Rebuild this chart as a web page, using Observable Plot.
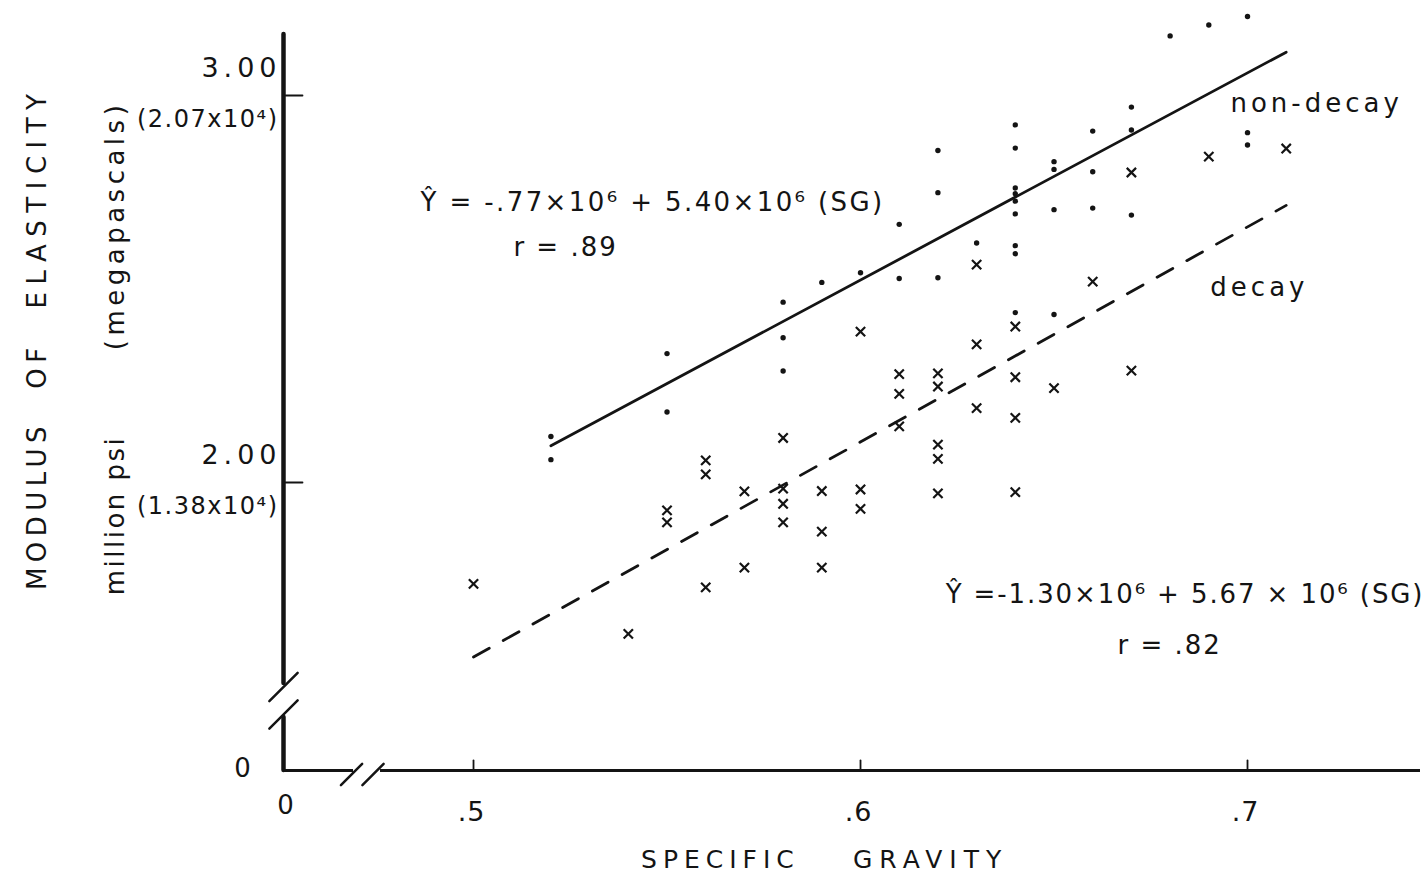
<!DOCTYPE html>
<html>
<head>
<meta charset="utf-8">
<script src="https://cdn.jsdelivr.net/npm/d3@7"></script>
<script src="https://cdn.jsdelivr.net/npm/@observablehq/plot@0.6"></script>
<style>
  body { margin: 0; background: #fff; }
  #chart svg { display: block; }
  g[aria-description="ytitle"] text { letter-spacing: 5.5px; }
  g[aria-description="ytitle"] text:nth-child(3) { letter-spacing: 7.5px; }
  g[aria-description="yunit"] text { letter-spacing: 2.5px; }
  g[aria-description="yunit"] text:nth-child(2) { letter-spacing: 4.5px; }
  g[aria-description="xtitle"] text { letter-spacing: 6px; }
  g[aria-description="xtitle"] text:nth-child(2) { letter-spacing: 7px; }
  g[aria-description="ytick-psi"] text { letter-spacing: 5px; }
  g[aria-description="ytick-mpa"] text { letter-spacing: 1.5px; }
  g[aria-description="xtick-label"] text { letter-spacing: 1px; }
  g[aria-description="equation"] text { letter-spacing: 2px; }
  g[aria-description="equation"] text:nth-child(1) { letter-spacing: 2.4px; }
  g[aria-description="equation"] text:nth-child(3) { letter-spacing: 1.9px; }
  g[aria-description="series-label"] text { letter-spacing: 4px; }
</style>
</head>
<body>
<div id="chart"></div>
<script>
// ---------- data (specific gravity, modulus of elasticity in million psi) ----------
const nonDecaySG  = [0.52,0.52,0.55,0.55,0.58,0.58,0.58,0.59,0.60,0.61,0.61,0.62,0.62,0.62,0.63,
                     0.64,0.64,0.64,0.64,0.64,0.64,0.64,0.64,0.64,0.65,0.65,0.65,0.65,0.66,0.66,0.66,
                     0.67,0.67,0.67,0.68,0.69,0.70,0.70,0.70];
const nonDecayMOE = [2.119,2.059,2.333,2.182,2.466,2.374,2.288,2.517,2.542,2.667,2.527,2.858,2.749,2.529,2.619,
                     2.924,2.864,2.761,2.746,2.727,2.694,2.612,2.591,2.439,2.829,2.809,2.705,2.434,2.908,2.803,2.709,
                     2.970,2.911,2.691,3.154,3.182,3.204,2.904,2.872];

const decaySG  = [0.50,0.54,0.55,0.55,0.56,0.56,0.56,0.57,0.57,0.58,0.58,0.58,0.58,0.59,0.59,0.59,
                  0.60,0.60,0.60,0.61,0.61,0.61,0.62,0.62,0.62,0.62,0.62,0.63,0.63,0.63,
                  0.64,0.64,0.64,0.64,0.65,0.66,0.67,0.67,0.69,0.71];
const decayMOE = [1.738,1.609,1.928,1.897,2.057,2.021,1.729,1.977,1.780,2.115,1.984,1.945,1.897,1.978,1.873,1.780,
                  2.390,1.982,1.932,2.280,2.229,2.145,2.282,2.248,2.098,2.061,1.972,2.563,2.357,2.192,
                  2.403,2.272,2.167,1.975,2.244,2.519,2.801,2.289,2.842,2.863];

// fitted regression lines as drawn (end points)
const nonDecayFitSG  = [0.52, 0.71];
const nonDecayFitMOE = [2.095, 3.112];
const decayFitSG     = [0.50, 0.71];
const decayFitMOE    = [1.549, 2.716];

// ticks
const xTicks = [0.5, 0.6, 0.7];
const xTickLabels = [".5", ".6", ".7"];
const yTicks = [2, 3];
const yTickPsi = ["2.00", "3.00"];
const yTickMPa = ["(1.38x10\u2074)", "(2.07x10\u2074)"];

// broken-axis extent (data units)
const xDomain = [0.4509, 0.7447];
const yDomain = [1.2558, 3.1576];
const xGap = [0.46899, 0.47597];
const yGap = [1.3928, 1.4806];
const xBreakMarks = [0.46848, 0.47403];
const yBreakMarks = [1.4005, 1.4716];

// annotation texts (anchored in data units)
const equations = [
  {text: "\u0176 = -.77\u00d710\u2076 + 5.40\u00d710\u2076 (SG)", sg: 0.4863, moe: 2.7235},
  {text: "r = .89", sg: 0.5103, moe: 2.6072},
  {text: "\u0176 =-1.30\u00d710\u2076 + 5.67 \u00d7 10\u2076 (SG)", sg: 0.6220, moe: 1.7106},
  {text: "r = .82", sg: 0.6664, moe: 1.5788}
];
const seriesLabels = [
  {text: "non-decay", sg: 0.6956, moe: 2.9793},
  {text: "decay", sg: 0.6904, moe: 2.5039}
];
const yTitle = [
  {text: "MODULUS", sg: 0.3873, moe: 1.9406},
  {text: "OF", sg: 0.3873, moe: 2.3023},
  {text: "ELASTICITY", sg: 0.3873, moe: 2.7364}
];
const yUnit = [
  {text: "million psi", sg: 0.4075, moe: 1.9147},
  {text: "(megapascals)", sg: 0.4075, moe: 2.6641}
];
const xTitle = [
  {text: "SPECIFIC", sg: 0.5638, moe: 1.0233},
  {text: "GRAVITY", sg: 0.6181, moe: 1.0233}
];
const zeroLabels = [
  {text: "0", sg: 0.4514, moe: 1.1654},
  {text: "0", sg: 0.4403, moe: 1.2610}
];

// ---------- build tables ----------
const nonDecay = nonDecaySG.map((sg, i) => ({sg, moe: nonDecayMOE[i]}));
const decay = decaySG.map((sg, i) => ({sg, moe: decayMOE[i]}));
const nonDecayFit = nonDecayFitSG.map((sg, i) => ({sg, moe: nonDecayFitMOE[i]}));
const decayFit = decayFitSG.map((sg, i) => ({sg, moe: decayFitMOE[i]}));
const yTickRows = yTicks.map((v, i) => ({v, psi: yTickPsi[i], mpa: yTickMPa[i]}));
const xTickRows = xTicks.map((v, i) => ({v, label: xTickLabels[i]}));

const lineShape = {draw(context, l) { context.moveTo(0, 0); context.lineTo(0, -l); }};
const ink = "#141414";
const font = "DejaVu Sans";

const chart = Plot.plot({
  width: 1425,
  height: 880,
  marginLeft: 283,
  marginRight: 5,
  marginTop: 34,
  marginBottom: 110,
  x: {domain: xDomain, axis: null},
  y: {domain: yDomain, axis: null},
  style: {fontFamily: font, background: "#fff", color: ink, overflow: "visible"},
  marks: [
    // y axis (with break gap)
    Plot.ruleX([{a: yGap[1], b: yDomain[1]}, {a: yDomain[0], b: yGap[0]}],
      {x: () => xDomain[0], y1: "a", y2: "b", stroke: ink, strokeWidth: 4.5, strokeLinecap: "round"}),
    // x axis (with break gap)
    Plot.ruleY([{a: xDomain[0], b: xGap[0]}, {a: xGap[1], b: xDomain[1]}],
      {y: () => yDomain[0], x1: "a", x2: "b", stroke: ink, strokeWidth: 3}),
    // break slashes
    Plot.vector(yBreakMarks, {x: () => xDomain[0], y: d => d, rotate: 45, length: 40, anchor: "middle",
      shape: lineShape, stroke: ink, strokeWidth: 2.5}),
    Plot.vector(xBreakMarks, {x: d => d, y: () => yDomain[0], rotate: 45, length: 30, anchor: "middle",
      shape: lineShape, stroke: ink, strokeWidth: 2.5, dy: 4}),
    // ticks (pointing inward)
    Plot.vector(yTicks, {x: () => xDomain[0], y: d => d, rotate: 90, length: 17, anchor: "start",
      shape: lineShape, stroke: ink, strokeWidth: 1.8, dx: 2}),
    Plot.vector(xTicks, {x: d => d, y: () => yDomain[0], rotate: 0, length: 10, anchor: "start",
      shape: lineShape, stroke: ink, strokeWidth: 1.8}),
    // tick labels
    Plot.text(yTickRows, {x: () => xDomain[0], y: "v", text: "psi", textAnchor: "end", dx: -2, dy: -27,
      fontSize: 27, fill: ink, ariaDescription: "ytick-psi"}),
    Plot.text(yTickRows, {x: () => xDomain[0], y: "v", text: "mpa", textAnchor: "end", dx: -5, dy: 24,
      fontSize: 24, fill: ink, ariaDescription: "ytick-mpa"}),
    Plot.text(xTickRows, {x: "v", y: () => yDomain[0], text: "label", dx: -2, dy: 42,
      fontSize: 27, fill: ink, ariaDescription: "xtick-label"}),
    Plot.text(zeroLabels, {x: "sg", y: "moe", text: "text", fontSize: 26, fill: ink, ariaDescription: "zero"}),
    // axis titles
    Plot.text(yTitle, {x: "sg", y: "moe", text: "text", rotate: -90, fontSize: 26, fill: ink, ariaDescription: "ytitle"}),
    Plot.text(yUnit, {x: "sg", y: "moe", text: "text", rotate: -90, fontSize: 26, fill: ink, ariaDescription: "yunit"}),
    Plot.text(xTitle, {x: "sg", y: "moe", text: "text", fontSize: 25, fill: ink, ariaDescription: "xtitle"}),
    // regression lines
    Plot.line(nonDecayFit, {x: "sg", y: "moe", stroke: ink, strokeWidth: 2.8}),
    Plot.line(decayFit, {x: "sg", y: "moe", stroke: ink, strokeWidth: 2.8, strokeDasharray: "18,16"}),
    // observations
    Plot.dot(nonDecay, {x: "sg", y: "moe", r: 2.7, fill: ink, stroke: "none"}),
    Plot.dot(decay, {x: "sg", y: "moe", symbol: "times", r: 4.3, stroke: ink, strokeWidth: 2.2}),
    // annotations
    Plot.text(equations, {x: "sg", y: "moe", text: "text", textAnchor: "start", fontSize: 26, fill: ink, ariaDescription: "equation"}),
    Plot.text(seriesLabels, {x: "sg", y: "moe", text: "text", textAnchor: "start", fontSize: 26, fill: ink, ariaDescription: "series-label"})
  ]
});

document.getElementById("chart").appendChild(chart);
</script>
</body>
</html>
